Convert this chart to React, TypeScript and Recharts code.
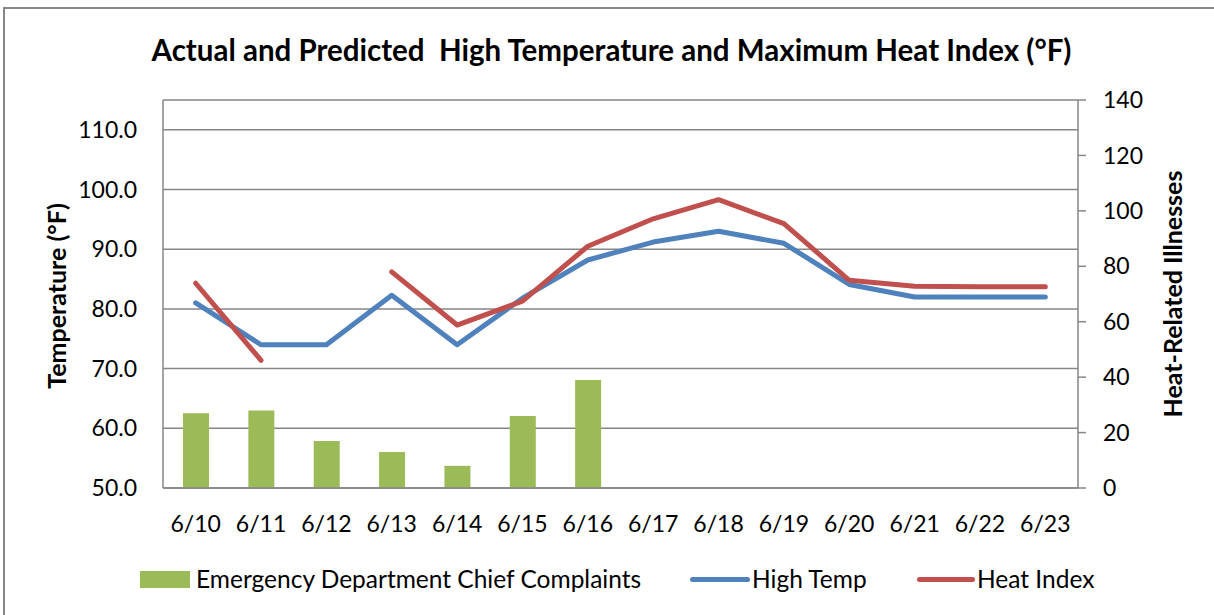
import { ComposedChart, Bar, Line, XAxis, YAxis, CartesianGrid } from "recharts";

const DATES = ["6/10", "6/11", "6/12", "6/13", "6/14", "6/15", "6/16", "6/17", "6/18", "6/19", "6/20", "6/21", "6/22", "6/23"];
const COMPLAINTS = [27, 28, 17, 13, 8, 26, 39, null, null, null, null, null, null, null];
const HIGH_TEMP = [81, 74, 74, 82.3, 74, 81.8, 88.2, 91.2, 93, 91, 84.1, 82, 82, 82];
const HEAT_INDEX = [84.3, 71.4, null, 86.2, 77.3, 81.3, 90.5, 95.1, 98.3, 94.3, 84.8, 83.8, 83.7, 83.7];
const TEMP_TICKS = [50, 60, 70, 80, 90, 100, 110];
const ILLNESS_TICKS = [0, 20, 40, 60, 80, 100, 120, 140];

const FONT = "Lato, 'Open Sans', sans-serif";
const AXIS_GRAY = "#868686";
const GREEN = "#9BBB59";
const BLUE = "#4F81BD";
const RED = "#C0504D";

const data = DATES.map((d, i) => ({
  date: d,
  complaints: COMPLAINTS[i],
  highTemp: HIGH_TEMP[i],
  heatIndex: HEAT_INDEX[i],
}));

const LeftLabel = () => (
  <text
    x={56}
    y={296}
    transform="rotate(-90 56 296)"
    textAnchor="middle"
    dominantBaseline="central"
    fontFamily={FONT}
    fontWeight="bold"
    fontSize={25}
    fill="#000"
  >
    Temperature (°F)
  </text>
);

const RightLabel = () => (
  <text
    x={1172}
    y={294}
    transform="rotate(-90 1172 294)"
    textAnchor="middle"
    dominantBaseline="central"
    fontFamily={FONT}
    fontWeight="bold"
    fontSize={25}
    fill="#000"
  >
    Heat-Related Illnesses
  </text>
);

const legendText = { position: "absolute" as const, top: 565, fontFamily: FONT, fontSize: 24.5, color: "#000", lineHeight: "28px" };
const tickStyle = { fontFamily: FONT, fontSize: 23, fill: "#000" };

export default function App() {
  return (
    <div style={{ position: "absolute", left: 0, top: 0, width: 1214, height: 615, background: "#fff", overflow: "hidden" }}>
      {/* outer frame, only top and left edges show */}
      <div style={{ position: "absolute", left: 3, top: 7, width: 1300, height: 700, borderLeft: "2px solid #888", borderTop: "2px solid #888" }} />
      <div
        style={{
          position: "absolute",
          top: 31,
          left: 0,
          width: 1223,
          textAlign: "center",
          fontFamily: FONT,
          fontWeight: "bold",
          fontSize: 29.5,
          color: "#000",
          lineHeight: "38px",
          whiteSpace: "pre",
        }}
      >
        {"Actual and Predicted  High Temperature and Maximum Heat Index (°F)"}
      </div>

      <div style={{ position: "absolute", left: 0, top: 0 }}>
        <ComposedChart width={1214} height={615} data={data} margin={{ top: 100, right: 56, bottom: 67, left: 83 }}>
          <CartesianGrid yAxisId="left" vertical={false} stroke={AXIS_GRAY} strokeWidth={1.5} />
          <XAxis
            dataKey="date"
            height={60}
            tickLine={false}
            tickSize={0}
            tickMargin={28}
            axisLine={{ stroke: AXIS_GRAY, strokeWidth: 1.5 }}
            tick={tickStyle}
            interval={0}
          />
          <YAxis
            yAxisId="left"
            width={80}
            domain={[50, 115]}
            ticks={TEMP_TICKS}
            allowDataOverflow
            tickFormatter={(v: number) => v.toFixed(1)}
            tickLine={false}
            tickSize={0}
            tickMargin={26}
            axisLine={{ stroke: AXIS_GRAY, strokeWidth: 1.5 }}
            tick={tickStyle}
            label={<LeftLabel />}
          />
          <YAxis
            yAxisId="right"
            orientation="right"
            width={80}
            domain={[0, 140]}
            ticks={ILLNESS_TICKS}
            tickLine={{ stroke: AXIS_GRAY, strokeWidth: 1.5 }}
            tickSize={8}
            tickMargin={17}
            axisLine={{ stroke: AXIS_GRAY, strokeWidth: 1.5 }}
            tick={tickStyle}
            label={<RightLabel />}
          />
          <Bar yAxisId="right" dataKey="complaints" fill={GREEN} barSize={26} isAnimationActive={false} />
          <Line
            yAxisId="left"
            dataKey="highTemp"
            stroke={BLUE}
            strokeWidth={5}
            strokeLinecap="round"
            strokeLinejoin="round"
            dot={false}
            activeDot={false}
            isAnimationActive={false}
          />
          <Line
            yAxisId="left"
            dataKey="heatIndex"
            stroke={RED}
            strokeWidth={5}
            strokeLinecap="round"
            strokeLinejoin="round"
            dot={false}
            activeDot={false}
            connectNulls={false}
            isAnimationActive={false}
          />
        </ComposedChart>
      </div>

      {/* legend */}
      <div style={{ position: "absolute", left: 140, top: 571, width: 50, height: 17, background: GREEN }} />
      <div style={{ ...legendText, left: 196 }}>Emergency Department Chief Complaints</div>
      <div style={{ position: "absolute", left: 690, top: 577, width: 60, height: 5, borderRadius: 3, background: BLUE }} />
      <div style={{ ...legendText, left: 752 }}>High Temp</div>
      <div style={{ position: "absolute", left: 917, top: 577, width: 58, height: 5, borderRadius: 3, background: RED }} />
      <div style={{ ...legendText, left: 977 }}>Heat Index</div>
    </div>
  );
}
